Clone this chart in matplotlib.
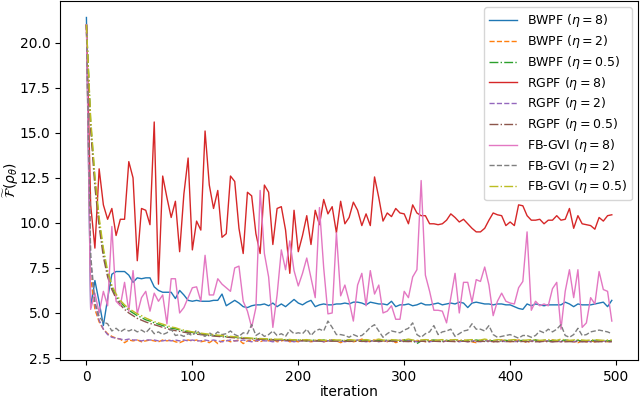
import numpy as np
import matplotlib
matplotlib.use("Agg")
import matplotlib.pyplot as plt

# values, one sample every 4 iterations (0..496)
step = 4

bwpf_8 = [21.4, 5.3, 6.8, 5.6, 4.3, 5.8, 7.15, 7.3, 7.3, 7.3,
          7.1, 6.7, 6.95, 6.9, 6.95, 6.95, 6.45, 6.25, 6.15, 6.15,
          6.15, 5.8, 6.25, 6.0, 5.7, 5.65, 5.7, 5.65, 5.65, 5.65,
          5.7, 5.7, 6.05, 5.4, 5.55, 5.7, 5.55, 5.35, 5.3, 5.4,
          5.45, 5.45, 5.5, 5.4, 5.55, 5.35, 5.5, 5.35, 5.55, 5.75,
          5.55, 5.45, 5.6, 5.7, 5.35, 5.45, 5.5, 5.45, 5.45, 5.5,
          5.5, 5.55, 5.5, 5.6, 5.6, 5.55, 5.45, 5.6, 5.55, 5.5,
          5.5, 5.45, 5.65, 5.35, 5.45, 5.45, 5.5, 5.4, 5.45, 5.55,
          5.45, 5.45, 5.5, 5.55, 5.45, 5.5, 5.55, 5.5, 5.6, 5.55,
          5.3, 5.55, 5.6, 5.55, 5.5, 5.5, 5.45, 5.5, 5.5, 5.45,
          5.45, 5.35, 5.25, 5.2, 5.5, 5.4, 5.5, 5.45, 5.4, 5.45,
          5.45, 5.45, 5.45, 5.6, 5.5, 5.35, 5.5, 5.45, 5.45, 5.45,
          5.5, 5.55, 5.6, 5.35, 5.7]

bwpf_2 = [21.0, 7.0, 5.2, 4.5, 4.1, 3.85, 3.7, 3.6, 3.55, 3.35,
          3.5, 3.45, 3.5, 3.4, 3.45, 3.5, 3.45, 3.4, 3.5, 3.45,
          3.5, 3.4, 3.35, 3.45, 3.5, 3.45, 3.5, 3.4, 3.45, 3.35,
          3.5, 3.3, 3.45, 3.5, 3.4, 3.45, 3.5, 3.3, 3.45, 3.5,
          3.45, 3.4, 3.5, 3.45, 3.55, 3.4, 3.45, 3.5, 3.4, 3.45,
          3.4, 3.5, 3.45, 3.4, 3.45, 3.5, 3.4, 3.45, 3.5, 3.45,
          3.35, 3.45, 3.5, 3.4, 3.45, 3.55, 3.45, 3.4, 3.5, 3.45,
          3.45, 3.4, 3.5, 3.35, 3.45, 3.5, 3.45, 3.4, 3.45, 3.5,
          3.4, 3.45, 3.5, 3.45, 3.4, 3.45, 3.5, 3.4, 3.45, 3.5,
          3.45, 3.4, 3.35, 3.45, 3.5, 3.45, 3.4, 3.45, 3.5, 3.45,
          3.4, 3.45, 3.5, 3.45, 3.35, 3.45, 3.5, 3.4, 3.45, 3.4,
          3.5, 3.45, 3.4, 3.45, 3.5, 3.4, 3.35, 3.45, 3.4, 3.45,
          3.4, 3.45, 3.45, 3.4, 3.45]

bwpf_05 = [21.0, 15.6, 12.4, 10.1, 8.4, 7.2, 6.45, 5.95, 5.6, 5.35,
           5.15, 5.0, 4.85, 4.75, 4.62, 4.55, 4.45, 4.38, 4.3, 4.22,
           4.15, 4.12, 4.05, 4.0, 3.95, 3.92, 3.88, 3.85, 3.8, 3.78,
           3.75, 3.72, 3.72, 3.68, 3.66, 3.65, 3.62, 3.6, 3.6, 3.58,
           3.58, 3.55, 3.55, 3.54, 3.52, 3.52, 3.5, 3.52, 3.48, 3.5,
           3.5, 3.48, 3.45, 3.5, 3.48, 3.45, 3.5, 3.46, 3.48, 3.45,
           3.48, 3.46, 3.5, 3.45, 3.48, 3.45, 3.5, 3.46, 3.44, 3.48,
           3.46, 3.5, 3.45, 3.48, 3.44, 3.5, 3.46, 3.48, 3.3, 3.45,
           3.48, 3.45, 3.5, 3.46, 3.44, 3.48, 3.45, 3.5, 3.46, 3.44,
           3.48, 3.45, 3.5, 3.46, 3.44, 3.48, 3.45, 3.42, 3.46, 3.48,
           3.44, 3.5, 3.45, 3.48, 3.44, 3.46, 3.5, 3.45, 3.48, 3.44,
           3.46, 3.48, 3.44, 3.5, 3.45, 3.46, 3.48, 3.44, 3.46, 3.45,
           3.48, 3.44, 3.46, 3.45, 3.46]

rgpf_8 = [21.0, 11.0, 8.6, 13.0, 11.0, 10.2, 10.8, 9.3, 10.2, 10.2,
          13.4, 12.5, 7.9, 10.8, 10.7, 9.9, 15.6, 6.6, 12.6, 11.4,
          10.3, 11.2, 8.4, 11.6, 13.6, 8.5, 10.1, 9.6, 15.1, 12.1,
          10.8, 11.8, 9.2, 9.4, 12.6, 12.3, 9.7, 8.3, 11.7, 11.5,
          9.4, 8.3, 12.1, 11.7, 8.8, 10.8, 10.9, 9.6, 7.2, 10.7,
          8.4, 9.3, 10.4, 8.8, 10.7, 9.9, 11.3, 10.5, 10.9, 9.45,
          11.2, 9.95, 10.3, 11.15, 10.7, 9.85, 10.5, 9.85, 12.55, 11.4,
          10.1, 10.55, 10.35, 10.8, 10.55, 10.5, 9.95, 11.0, 10.55, 10.4,
          10.4, 9.95, 9.95, 9.9, 9.95, 10.15, 10.5, 10.3, 10.05, 10.2,
          9.95, 9.7, 9.5, 9.5, 9.7, 10.15, 10.55, 10.45, 10.4, 9.85,
          10.05, 9.85, 11.0, 10.95, 10.4, 10.15, 10.15, 10.2, 9.95, 10.15,
          10.15, 10.4, 10.15, 10.2, 10.8, 9.7, 10.4, 9.95, 9.9, 9.85,
          9.65, 10.3, 10.1, 10.4, 10.45]

rgpf_2 = [21.0, 7.8, 5.5, 4.6, 4.1, 3.8, 3.65, 3.6, 3.55, 3.5,
          3.55, 3.5, 3.5, 3.45, 3.5, 3.5, 3.5, 3.45, 3.45, 3.5,
          3.45, 3.5, 3.45, 3.5, 3.45, 3.5, 3.45, 3.45, 3.5, 3.45,
          3.5, 3.45, 3.4, 3.45, 3.5, 3.45, 3.45, 3.5, 3.45, 3.4,
          3.45, 3.5, 3.45, 3.45, 3.4, 3.45, 3.5, 3.45, 3.45, 3.4,
          3.45, 3.45, 3.5, 3.4, 3.45, 3.45, 3.4, 3.45, 3.5, 3.45,
          3.45, 3.4, 3.45, 3.45, 3.5, 3.45, 3.4, 3.45, 3.45, 3.4,
          3.45, 3.45, 3.4, 3.45, 3.5, 3.4, 3.45, 3.45, 3.4, 3.45,
          3.45, 3.4, 3.45, 3.45, 3.4, 3.45, 3.45, 3.5, 3.4, 3.45,
          3.4, 3.45, 3.45, 3.4, 3.45, 3.45, 3.4, 3.45, 3.45, 3.4,
          3.45, 3.4, 3.45, 3.45, 3.4, 3.45, 3.45, 3.4, 3.45, 3.45,
          3.4, 3.45, 3.4, 3.45, 3.45, 3.4, 3.45, 3.4, 3.45, 3.4,
          3.45, 3.4, 3.45, 3.4, 3.42]

rgpf_05 = [21.0, 15.2, 12.0, 9.8, 8.1, 7.0, 6.3, 5.8, 5.45, 5.2,
           5.0, 4.85, 4.7, 4.6, 4.5, 4.42, 4.35, 4.28, 4.2, 4.13,
           4.07, 4.02, 3.98, 3.93, 3.9, 3.86, 3.82, 3.8, 3.77, 3.74,
           3.72, 3.7, 3.68, 3.66, 3.64, 3.62, 3.6, 3.59, 3.58, 3.56,
           3.55, 3.54, 3.53, 3.52, 3.5, 3.5, 3.49, 3.48, 3.48, 3.47,
           3.47, 3.46, 3.46, 3.45, 3.45, 3.44, 3.45, 3.44, 3.43, 3.44,
           3.43, 3.44, 3.42, 3.43, 3.44, 3.42, 3.43, 3.42, 3.44, 3.43,
           3.42, 3.43, 3.44, 3.42, 3.43, 3.42, 3.41, 3.43, 3.42, 3.43,
           3.42, 3.41, 3.43, 3.42, 3.41, 3.43, 3.42, 3.41, 3.42, 3.43,
           3.41, 3.42, 3.41, 3.43, 3.42, 3.41, 3.42, 3.4, 3.42, 3.41,
           3.42, 3.41, 3.4, 3.42, 3.41, 3.42, 3.4, 3.41, 3.42, 3.41,
           3.4, 3.41, 3.42, 3.4, 3.41, 3.4, 3.42, 3.41, 3.4, 3.41,
           3.4, 3.41, 3.4, 3.41, 3.4]

fbgvi_8 = [21.0, 5.2, 6.1, 5.0, 6.2, 5.4, 9.8, 5.65, 5.4, 6.7,
           5.1, 7.35, 4.95, 5.85, 6.2, 5.1, 6.1, 5.65, 6.0, 4.4,
           6.9, 6.9, 5.0, 5.3, 5.85, 6.4, 6.45, 5.65, 8.2, 6.0,
           6.0, 6.9, 6.6, 6.4, 6.2, 7.5, 7.6, 5.65, 5.1, 4.2,
           5.3, 11.8, 8.3, 7.0, 4.2, 6.0, 8.5, 7.4, 9.0, 7.35,
           6.5, 7.2, 8.05, 6.95, 5.85, 10.85, 7.5, 4.95, 5.0, 9.45,
           5.95, 6.55, 5.65, 4.55, 6.55, 7.2, 5.4, 7.35, 6.05, 6.55,
           5.0, 5.1, 5.4, 4.65, 4.65, 6.2, 5.85, 7.0, 7.4, 12.35,
           7.1, 6.2, 5.15, 5.15, 5.1, 4.45, 5.85, 7.2, 5.0, 6.7,
           6.7, 5.6, 6.85, 6.75, 7.55, 6.55, 4.85, 5.65, 6.1, 5.65,
           5.55, 5.5, 6.4, 6.75, 9.5, 5.15, 5.65, 5.4, 5.5, 5.4,
           6.35, 6.7, 4.1, 6.2, 7.4, 5.85, 7.4, 4.2, 4.45, 5.85,
           5.5, 7.3, 6.3, 6.2, 4.55]

fbgvi_2 = [21.0, 8.2, 5.6, 4.8, 4.5, 4.4, 4.0, 4.15, 3.95, 4.1,
           4.0, 4.1, 3.95, 4.05, 3.9, 4.15, 3.85, 3.95, 3.8, 3.9,
           4.1, 3.75, 3.8, 3.7, 3.85, 3.75, 4.05, 3.8, 3.7, 3.9,
           3.75, 3.95, 3.8, 3.85, 4.0, 3.8, 3.7, 3.9, 3.85, 4.35,
           3.75, 3.9, 3.7, 3.8, 4.0, 3.75, 3.85, 3.7, 4.05, 3.85,
           3.9, 3.85, 4.1, 3.75, 4.0, 4.1, 4.0, 4.55, 4.2, 3.8,
           3.8, 3.75, 3.65, 3.8, 3.7, 3.75, 3.95, 4.2, 4.35, 4.0,
           3.65, 3.85, 4.0, 3.95, 3.9, 4.05, 4.15, 4.45, 3.8, 3.65,
           3.85, 3.95, 4.3, 3.8, 3.95, 4.0, 4.1, 3.7, 3.85, 4.0,
           4.05, 4.4, 4.1, 4.1, 4.0, 4.3, 3.8, 3.65, 3.7, 3.75,
           3.8, 3.7, 3.6, 3.75, 3.75, 3.65, 3.75, 4.0, 3.9, 4.1,
           3.95, 4.1, 4.35, 3.75, 3.65, 3.8, 4.15, 3.75, 3.8, 3.95,
           4.0, 4.05, 4.0, 3.95, 3.85]

fbgvi_05 = [21.0, 15.8, 12.6, 10.3, 8.6, 7.35, 6.55, 6.05, 5.7, 5.45,
            5.25, 5.1, 4.95, 4.85, 4.72, 4.62, 4.52, 4.45, 4.38, 4.3,
            4.22, 4.18, 4.1, 4.05, 4.0, 3.95, 3.92, 3.88, 3.85, 3.82,
            3.8, 3.77, 3.75, 3.72, 3.7, 3.68, 3.66, 3.64, 3.62, 3.6,
            3.6, 3.58, 3.57, 3.56, 3.55, 3.54, 3.55, 3.52, 3.53, 3.5,
            3.52, 3.5, 3.52, 3.48, 3.5, 3.52, 3.48, 3.5, 3.52, 3.5,
            3.5, 3.48, 3.52, 3.5, 3.47, 3.5, 3.52, 3.48, 3.5, 3.55,
            3.5, 3.48, 3.52, 3.5, 3.48, 3.5, 3.55, 3.5, 3.48, 3.5,
            3.52, 3.5, 3.48, 3.5, 3.52, 3.48, 3.5, 3.52, 3.5, 3.48,
            3.5, 3.52, 3.48, 3.5, 3.55, 3.5, 3.48, 3.52, 3.5, 3.48,
            3.5, 3.52, 3.5, 3.48, 3.5, 3.52, 3.5, 3.48, 3.5, 3.52,
            3.5, 3.48, 3.55, 3.5, 3.48, 3.5, 3.52, 3.5, 3.48, 3.5,
            3.52, 3.5, 3.48, 3.5, 3.5]

series = [
    ("BWPF ($\\eta = 8$)", bwpf_8, "-"),
    ("BWPF ($\\eta = 2$)", bwpf_2, "--"),
    ("BWPF ($\\eta = 0.5$)", bwpf_05, "-."),
    ("RGPF ($\\eta = 8$)", rgpf_8, "-"),
    ("RGPF ($\\eta = 2$)", rgpf_2, "--"),
    ("RGPF ($\\eta = 0.5$)", rgpf_05, "-."),
    ("FB-GVI ($\\eta = 8$)", fbgvi_8, "-"),
    ("FB-GVI ($\\eta = 2$)", fbgvi_2, "--"),
    ("FB-GVI ($\\eta = 0.5$)", fbgvi_05, "-."),
]

fig = plt.figure(figsize=(6.4, 3.99), dpi=100)
ax = fig.add_axes([0.094, 0.098, 0.903, 0.899])

for label, vals, ls in series:
    it = np.arange(len(vals)) * step
    ax.plot(it, vals, ls, lw=1.0, label=label)

ax.set_xlabel("iteration", labelpad=1)
ax.set_ylabel(r"$\widetilde{\mathcal{F}}(\rho_\theta)$")
ax.yaxis.set_label_coords(-0.068, 0.5)
ax.legend(loc="upper right", fontsize=9, labelspacing=0.3, handlelength=2.2)

fig.savefig("out.png", dpi=100)
